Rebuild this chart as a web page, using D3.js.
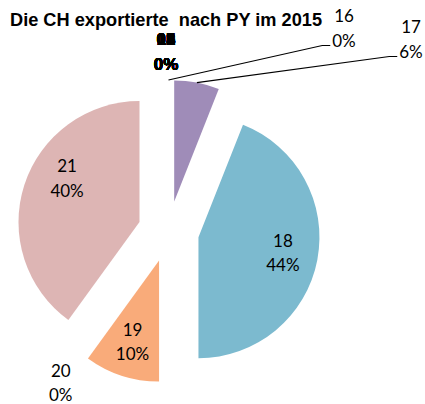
<!DOCTYPE html>
<html><head><meta charset="utf-8">
<script src="https://cdn.jsdelivr.net/npm/d3@7"></script>
<style>html,body{margin:0;padding:0;background:#fff;}svg{display:block;}text{white-space:pre;}</style>
</head><body>
<svg id="chart" width="425" height="404"></svg>
<script>
// ---- data ----
const title = "Die CH exportierte  nach PY im 2015";
const categories = ["01","02","03","04","05","06","07","08","09","10","11","12","13","14","15","16","17","18","19","20","21"];
const values     = [0,0,0,0,0,0,0,0,0,0,0,0,0,0,0,0,6,44,10,0,40];
const boldCategories = ["01","02","03","04","05","06","07","08","09","10","11","12","13","14","15"];
const sliceColors = {"16":"#9F8CB8","17":"#9F8CB8","18":"#7CBACF","19":"#F9AB7A","20":"#F9AB7A","21":"#DDB5B4"};

// ---- layout ----
const cx = 168.5, cy = 231.5, R = 121, explode = 30.5;
const lineGap = 24.5;
const svg = d3.select("#chart");
const total = d3.sum(values);
const pct = v => Math.round(v / total * 100) + "%";
const items = categories.map((c, i) => ({cat: c, value: values[i]}));
const pie = d3.pie().sort(null).value(d => d.value).startAngle(0).endAngle(2 * Math.PI);
const arcs = pie(items);
arcs.forEach(d => { d.cat = d.data.cat; });
const arc = d3.arc().innerRadius(0).outerRadius(R);
const polar = (a, r) => [Math.sin(a) * r, -Math.cos(a) * r];
const mid = d => (d.startAngle + d.endAngle) / 2;
const deg = Math.PI / 180;

const g = svg.append("g").attr("transform", `translate(${cx},${cy})`);

// slices
arcs.forEach(d => {
  const off = polar(mid(d), explode);
  d.off = off;
  if (d.value > 0) {
    g.append("path").attr("d", arc(d))
      .attr("transform", `translate(${off[0]},${off[1]})`)
      .attr("fill", sliceColors[d.cat]);
  }
});

// label placement rules
const inside = {"18": {shift: 0, dist: 86}, "19": {shift: 0, dist: 86}, "21": {shift: 13, dist: 84.5}};
const outside = {"20": {shift: -0.6, dist: 186}};
const dragged = {"16": [344, 22], "17": [411, 33]};

const fontPlain = "Lato, 'Open Sans', sans-serif";
const fontBold = "'Liberation Sans', Arial, sans-serif";

function twoLine(x, b1, l1, l2, bold) {
  const t = svg.append("g");
  const mk = (y, s) => t.append("text").attr("x", x).attr("y", y).attr("text-anchor", "middle")
    .attr("font-family", bold ? fontBold : fontPlain).attr("font-size", 17)
    .attr("font-weight", bold ? "bold" : "normal").attr("fill", "#000").text(s);
  mk(b1, l1);
  return mk(b1 + lineGap, l2);
}

arcs.forEach(d => {
  const m = mid(d);
  if (inside[d.cat]) {
    const o = inside[d.cat];
    const p = polar(m + o.shift * deg, o.dist);
    twoLine(cx + d.off[0] + p[0], cy + d.off[1] + p[1] - 6.5, d.cat, pct(d.value), false);
  } else if (outside[d.cat]) {
    const o = outside[d.cat];
    const p = polar(m + o.shift * deg, o.dist);
    twoLine(cx + p[0], cy + p[1] - 6.5, d.cat, pct(d.value), false);
  } else if (dragged[d.cat]) {
    const [lx, lb] = dragged[d.cat];
    const second = twoLine(lx, lb, d.cat, pct(d.value), false);
    const w = second.node().getComputedTextLength();
    const ex = lx - w / 2 - 2, ey = lb + lineGap - 1;
    const s = polar(m, R);
    const sx = cx + d.off[0] + s[0], sy = cy + d.off[1] + s[1];
    svg.append("polyline")
      .attr("points", `${sx},${sy} ${ex - 8},${ey} ${ex},${ey}`)
      .attr("fill", "none").attr("stroke", "#000").attr("stroke-width", 1.2);
  } else if (boldCategories.includes(d.cat)) {
    const p = polar(m, 180);
    twoLine(cx + p[0] - 2.5, cy + p[1] - 6.5, d.cat, pct(d.value), true);
  }
});

// title
svg.append("text").attr("x", 10).attr("y", 26)
  .attr("font-family", fontBold).attr("font-size", 18.2).attr("font-weight", "bold")
  .attr("fill", "#000").text(title);
</script>
</body></html>
